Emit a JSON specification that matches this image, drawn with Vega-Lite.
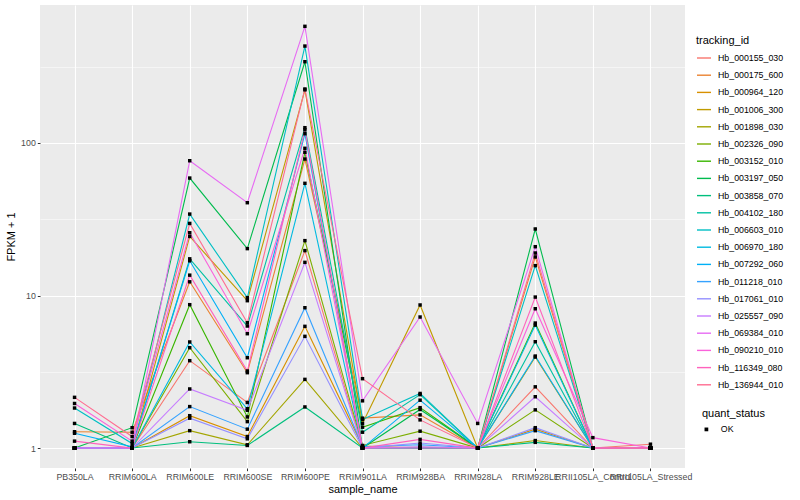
{
  "$schema": "https://vega.github.io/schema/vega-lite/v6.json",
  "autosize": {"type": "none"},
  "padding": {"left": 40, "top": 5, "right": 115, "bottom": 32},
  "width": 645,
  "height": 463,
  "background": "white",
  "config": {
    "view": {"fill": "#EBEBEB", "stroke": null},
    "font": "Liberation Sans",
    "axis": {"labelFont": "Liberation Sans", "titleFont": "Liberation Sans", "titleFontWeight": "normal", "labelColor": "#4D4D4D", "labelFontSize": 8.8, "titleFontSize": 11, "titleColor": "black", "domain": false, "tickColor": "#333333", "tickSize": 2.7, "gridColor": "white"},
    "legend": {"labelFont": "Liberation Sans", "titleFont": "Liberation Sans", "titleFontWeight": "normal", "labelFontSize": 8.8, "titleFontSize": 11, "labelColor": "black", "titleColor": "black"}
  },
  "data": {"values": [
    {"tracking_id":"Hb_000155_030","sample_name":"PB350LA","fpkm":1},
    {"tracking_id":"Hb_000155_030","sample_name":"RRIM600LA","fpkm":1},
    {"tracking_id":"Hb_000155_030","sample_name":"RRIM600LE","fpkm":3.74},
    {"tracking_id":"Hb_000155_030","sample_name":"RRIM600SE","fpkm":1.99},
    {"tracking_id":"Hb_000155_030","sample_name":"RRIM600PE","fpkm":19.7},
    {"tracking_id":"Hb_000155_030","sample_name":"RRIM901LA","fpkm":1},
    {"tracking_id":"Hb_000155_030","sample_name":"RRIM928BA","fpkm":1},
    {"tracking_id":"Hb_000155_030","sample_name":"RRIM928LA","fpkm":1},
    {"tracking_id":"Hb_000155_030","sample_name":"RRIM928LE","fpkm":2.52},
    {"tracking_id":"Hb_000155_030","sample_name":"RRII105LA_Control","fpkm":1},
    {"tracking_id":"Hb_000155_030","sample_name":"RRII105LA_Stressed","fpkm":1.06},
    {"tracking_id":"Hb_000175_600","sample_name":"PB350LA","fpkm":1.28},
    {"tracking_id":"Hb_000175_600","sample_name":"RRIM600LA","fpkm":1.27},
    {"tracking_id":"Hb_000175_600","sample_name":"RRIM600LE","fpkm":12.3},
    {"tracking_id":"Hb_000175_600","sample_name":"RRIM600SE","fpkm":3.12},
    {"tracking_id":"Hb_000175_600","sample_name":"RRIM600PE","fpkm":78.5},
    {"tracking_id":"Hb_000175_600","sample_name":"RRIM901LA","fpkm":1.57},
    {"tracking_id":"Hb_000175_600","sample_name":"RRIM928BA","fpkm":1.65},
    {"tracking_id":"Hb_000175_600","sample_name":"RRIM928LA","fpkm":1},
    {"tracking_id":"Hb_000175_600","sample_name":"RRIM928LE","fpkm":17.9},
    {"tracking_id":"Hb_000175_600","sample_name":"RRII105LA_Control","fpkm":1},
    {"tracking_id":"Hb_000175_600","sample_name":"RRII105LA_Stressed","fpkm":1},
    {"tracking_id":"Hb_000964_120","sample_name":"PB350LA","fpkm":1},
    {"tracking_id":"Hb_000964_120","sample_name":"RRIM600LA","fpkm":1},
    {"tracking_id":"Hb_000964_120","sample_name":"RRIM600LE","fpkm":1.63},
    {"tracking_id":"Hb_000964_120","sample_name":"RRIM600SE","fpkm":1.19},
    {"tracking_id":"Hb_000964_120","sample_name":"RRIM600PE","fpkm":6.28},
    {"tracking_id":"Hb_000964_120","sample_name":"RRIM901LA","fpkm":1.03},
    {"tracking_id":"Hb_000964_120","sample_name":"RRIM928BA","fpkm":1},
    {"tracking_id":"Hb_000964_120","sample_name":"RRIM928LA","fpkm":1},
    {"tracking_id":"Hb_000964_120","sample_name":"RRIM928LE","fpkm":1.33},
    {"tracking_id":"Hb_000964_120","sample_name":"RRII105LA_Control","fpkm":1},
    {"tracking_id":"Hb_000964_120","sample_name":"RRII105LA_Stressed","fpkm":1},
    {"tracking_id":"Hb_001006_300","sample_name":"PB350LA","fpkm":1},
    {"tracking_id":"Hb_001006_300","sample_name":"RRIM600LA","fpkm":1},
    {"tracking_id":"Hb_001006_300","sample_name":"RRIM600LE","fpkm":24.4},
    {"tracking_id":"Hb_001006_300","sample_name":"RRIM600SE","fpkm":9.25},
    {"tracking_id":"Hb_001006_300","sample_name":"RRIM600PE","fpkm":223},
    {"tracking_id":"Hb_001006_300","sample_name":"RRIM901LA","fpkm":1.45},
    {"tracking_id":"Hb_001006_300","sample_name":"RRIM928BA","fpkm":8.67},
    {"tracking_id":"Hb_001006_300","sample_name":"RRIM928LA","fpkm":1},
    {"tracking_id":"Hb_001006_300","sample_name":"RRIM928LE","fpkm":3.95},
    {"tracking_id":"Hb_001006_300","sample_name":"RRII105LA_Control","fpkm":1},
    {"tracking_id":"Hb_001006_300","sample_name":"RRII105LA_Stressed","fpkm":1},
    {"tracking_id":"Hb_001898_030","sample_name":"PB350LA","fpkm":1},
    {"tracking_id":"Hb_001898_030","sample_name":"RRIM600LA","fpkm":1},
    {"tracking_id":"Hb_001898_030","sample_name":"RRIM600LE","fpkm":1.30},
    {"tracking_id":"Hb_001898_030","sample_name":"RRIM600SE","fpkm":1.05},
    {"tracking_id":"Hb_001898_030","sample_name":"RRIM600PE","fpkm":2.82},
    {"tracking_id":"Hb_001898_030","sample_name":"RRIM901LA","fpkm":1},
    {"tracking_id":"Hb_001898_030","sample_name":"RRIM928BA","fpkm":1.01},
    {"tracking_id":"Hb_001898_030","sample_name":"RRIM928LA","fpkm":1},
    {"tracking_id":"Hb_001898_030","sample_name":"RRIM928LE","fpkm":1.12},
    {"tracking_id":"Hb_001898_030","sample_name":"RRII105LA_Control","fpkm":1},
    {"tracking_id":"Hb_001898_030","sample_name":"RRII105LA_Stressed","fpkm":1},
    {"tracking_id":"Hb_002326_090","sample_name":"PB350LA","fpkm":1},
    {"tracking_id":"Hb_002326_090","sample_name":"RRIM600LA","fpkm":1},
    {"tracking_id":"Hb_002326_090","sample_name":"RRIM600LE","fpkm":4.55},
    {"tracking_id":"Hb_002326_090","sample_name":"RRIM600SE","fpkm":1.49},
    {"tracking_id":"Hb_002326_090","sample_name":"RRIM600PE","fpkm":22.9},
    {"tracking_id":"Hb_002326_090","sample_name":"RRIM901LA","fpkm":1.04},
    {"tracking_id":"Hb_002326_090","sample_name":"RRIM928BA","fpkm":1.29},
    {"tracking_id":"Hb_002326_090","sample_name":"RRIM928LA","fpkm":1},
    {"tracking_id":"Hb_002326_090","sample_name":"RRIM928LE","fpkm":1.78},
    {"tracking_id":"Hb_002326_090","sample_name":"RRII105LA_Control","fpkm":1},
    {"tracking_id":"Hb_002326_090","sample_name":"RRII105LA_Stressed","fpkm":1},
    {"tracking_id":"Hb_003152_010","sample_name":"PB350LA","fpkm":1},
    {"tracking_id":"Hb_003152_010","sample_name":"RRIM600LA","fpkm":1},
    {"tracking_id":"Hb_003152_010","sample_name":"RRIM600LE","fpkm":8.71},
    {"tracking_id":"Hb_003152_010","sample_name":"RRIM600SE","fpkm":1.60},
    {"tracking_id":"Hb_003152_010","sample_name":"RRIM600PE","fpkm":86.9},
    {"tracking_id":"Hb_003152_010","sample_name":"RRIM901LA","fpkm":1.37},
    {"tracking_id":"Hb_003152_010","sample_name":"RRIM928BA","fpkm":1.84},
    {"tracking_id":"Hb_003152_010","sample_name":"RRIM928LA","fpkm":1},
    {"tracking_id":"Hb_003152_010","sample_name":"RRIM928LE","fpkm":6.6},
    {"tracking_id":"Hb_003152_010","sample_name":"RRII105LA_Control","fpkm":1},
    {"tracking_id":"Hb_003152_010","sample_name":"RRII105LA_Stressed","fpkm":1},
    {"tracking_id":"Hb_003197_050","sample_name":"PB350LA","fpkm":1},
    {"tracking_id":"Hb_003197_050","sample_name":"RRIM600LA","fpkm":1.36},
    {"tracking_id":"Hb_003197_050","sample_name":"RRIM600LE","fpkm":58.9},
    {"tracking_id":"Hb_003197_050","sample_name":"RRIM600SE","fpkm":20.3},
    {"tracking_id":"Hb_003197_050","sample_name":"RRIM600PE","fpkm":341},
    {"tracking_id":"Hb_003197_050","sample_name":"RRIM901LA","fpkm":1},
    {"tracking_id":"Hb_003197_050","sample_name":"RRIM928BA","fpkm":1.79},
    {"tracking_id":"Hb_003197_050","sample_name":"RRIM928LA","fpkm":1},
    {"tracking_id":"Hb_003197_050","sample_name":"RRIM928LE","fpkm":27.3},
    {"tracking_id":"Hb_003197_050","sample_name":"RRII105LA_Control","fpkm":1},
    {"tracking_id":"Hb_003197_050","sample_name":"RRII105LA_Stressed","fpkm":1},
    {"tracking_id":"Hb_003858_070","sample_name":"PB350LA","fpkm":1.45},
    {"tracking_id":"Hb_003858_070","sample_name":"RRIM600LA","fpkm":1},
    {"tracking_id":"Hb_003858_070","sample_name":"RRIM600LE","fpkm":1.10},
    {"tracking_id":"Hb_003858_070","sample_name":"RRIM600SE","fpkm":1.04},
    {"tracking_id":"Hb_003858_070","sample_name":"RRIM600PE","fpkm":1.86},
    {"tracking_id":"Hb_003858_070","sample_name":"RRIM901LA","fpkm":1},
    {"tracking_id":"Hb_003858_070","sample_name":"RRIM928BA","fpkm":1},
    {"tracking_id":"Hb_003858_070","sample_name":"RRIM928LA","fpkm":1},
    {"tracking_id":"Hb_003858_070","sample_name":"RRIM928LE","fpkm":1.09},
    {"tracking_id":"Hb_003858_070","sample_name":"RRII105LA_Control","fpkm":1},
    {"tracking_id":"Hb_003858_070","sample_name":"RRII105LA_Stressed","fpkm":1},
    {"tracking_id":"Hb_004102_180","sample_name":"PB350LA","fpkm":1},
    {"tracking_id":"Hb_004102_180","sample_name":"RRIM600LA","fpkm":1},
    {"tracking_id":"Hb_004102_180","sample_name":"RRIM600LE","fpkm":17.4},
    {"tracking_id":"Hb_004102_180","sample_name":"RRIM600SE","fpkm":6.31},
    {"tracking_id":"Hb_004102_180","sample_name":"RRIM600PE","fpkm":126},
    {"tracking_id":"Hb_004102_180","sample_name":"RRIM901LA","fpkm":1.27},
    {"tracking_id":"Hb_004102_180","sample_name":"RRIM928BA","fpkm":2.24},
    {"tracking_id":"Hb_004102_180","sample_name":"RRIM928LA","fpkm":1},
    {"tracking_id":"Hb_004102_180","sample_name":"RRIM928LE","fpkm":4.98},
    {"tracking_id":"Hb_004102_180","sample_name":"RRII105LA_Control","fpkm":1},
    {"tracking_id":"Hb_004102_180","sample_name":"RRII105LA_Stressed","fpkm":1},
    {"tracking_id":"Hb_006603_010","sample_name":"PB350LA","fpkm":1.83},
    {"tracking_id":"Hb_006603_010","sample_name":"RRIM600LA","fpkm":1.07},
    {"tracking_id":"Hb_006603_010","sample_name":"RRIM600LE","fpkm":34.2},
    {"tracking_id":"Hb_006603_010","sample_name":"RRIM600SE","fpkm":9.68},
    {"tracking_id":"Hb_006603_010","sample_name":"RRIM600PE","fpkm":432},
    {"tracking_id":"Hb_006603_010","sample_name":"RRIM901LA","fpkm":1.54},
    {"tracking_id":"Hb_006603_010","sample_name":"RRIM928BA","fpkm":2.28},
    {"tracking_id":"Hb_006603_010","sample_name":"RRIM928LA","fpkm":1},
    {"tracking_id":"Hb_006603_010","sample_name":"RRIM928LE","fpkm":15.7},
    {"tracking_id":"Hb_006603_010","sample_name":"RRII105LA_Control","fpkm":1},
    {"tracking_id":"Hb_006603_010","sample_name":"RRII105LA_Stressed","fpkm":1},
    {"tracking_id":"Hb_006970_180","sample_name":"PB350LA","fpkm":1},
    {"tracking_id":"Hb_006970_180","sample_name":"RRIM600LA","fpkm":1},
    {"tracking_id":"Hb_006970_180","sample_name":"RRIM600LE","fpkm":4.96},
    {"tracking_id":"Hb_006970_180","sample_name":"RRIM600SE","fpkm":1.81},
    {"tracking_id":"Hb_006970_180","sample_name":"RRIM600PE","fpkm":54.4},
    {"tracking_id":"Hb_006970_180","sample_name":"RRIM901LA","fpkm":1},
    {"tracking_id":"Hb_006970_180","sample_name":"RRIM928BA","fpkm":1},
    {"tracking_id":"Hb_006970_180","sample_name":"RRIM928LA","fpkm":1},
    {"tracking_id":"Hb_006970_180","sample_name":"RRIM928LE","fpkm":6.4},
    {"tracking_id":"Hb_006970_180","sample_name":"RRII105LA_Control","fpkm":1},
    {"tracking_id":"Hb_006970_180","sample_name":"RRII105LA_Stressed","fpkm":1},
    {"tracking_id":"Hb_007292_060","sample_name":"PB350LA","fpkm":1.25},
    {"tracking_id":"Hb_007292_060","sample_name":"RRIM600LA","fpkm":1.02},
    {"tracking_id":"Hb_007292_060","sample_name":"RRIM600LE","fpkm":16.9},
    {"tracking_id":"Hb_007292_060","sample_name":"RRIM600SE","fpkm":3.91},
    {"tracking_id":"Hb_007292_060","sample_name":"RRIM600PE","fpkm":115},
    {"tracking_id":"Hb_007292_060","sample_name":"RRIM901LA","fpkm":1},
    {"tracking_id":"Hb_007292_060","sample_name":"RRIM928BA","fpkm":2.06},
    {"tracking_id":"Hb_007292_060","sample_name":"RRIM928LA","fpkm":1},
    {"tracking_id":"Hb_007292_060","sample_name":"RRIM928LE","fpkm":4.01},
    {"tracking_id":"Hb_007292_060","sample_name":"RRII105LA_Control","fpkm":1},
    {"tracking_id":"Hb_007292_060","sample_name":"RRII105LA_Stressed","fpkm":1},
    {"tracking_id":"Hb_011218_010","sample_name":"PB350LA","fpkm":1},
    {"tracking_id":"Hb_011218_010","sample_name":"RRIM600LA","fpkm":1},
    {"tracking_id":"Hb_011218_010","sample_name":"RRIM600LE","fpkm":1.87},
    {"tracking_id":"Hb_011218_010","sample_name":"RRIM600SE","fpkm":1.33},
    {"tracking_id":"Hb_011218_010","sample_name":"RRIM600PE","fpkm":8.32},
    {"tracking_id":"Hb_011218_010","sample_name":"RRIM901LA","fpkm":1.02},
    {"tracking_id":"Hb_011218_010","sample_name":"RRIM928BA","fpkm":1.05},
    {"tracking_id":"Hb_011218_010","sample_name":"RRIM928LA","fpkm":1},
    {"tracking_id":"Hb_011218_010","sample_name":"RRIM928LE","fpkm":1.30},
    {"tracking_id":"Hb_011218_010","sample_name":"RRII105LA_Control","fpkm":1},
    {"tracking_id":"Hb_011218_010","sample_name":"RRII105LA_Stressed","fpkm":1},
    {"tracking_id":"Hb_017061_010","sample_name":"PB350LA","fpkm":1},
    {"tracking_id":"Hb_017061_010","sample_name":"RRIM600LA","fpkm":1},
    {"tracking_id":"Hb_017061_010","sample_name":"RRIM600LE","fpkm":1.57},
    {"tracking_id":"Hb_017061_010","sample_name":"RRIM600SE","fpkm":1.15},
    {"tracking_id":"Hb_017061_010","sample_name":"RRIM600PE","fpkm":5.40},
    {"tracking_id":"Hb_017061_010","sample_name":"RRIM901LA","fpkm":1},
    {"tracking_id":"Hb_017061_010","sample_name":"RRIM928BA","fpkm":1.08},
    {"tracking_id":"Hb_017061_010","sample_name":"RRIM928LA","fpkm":1},
    {"tracking_id":"Hb_017061_010","sample_name":"RRIM928LE","fpkm":1.36},
    {"tracking_id":"Hb_017061_010","sample_name":"RRII105LA_Control","fpkm":1},
    {"tracking_id":"Hb_017061_010","sample_name":"RRII105LA_Stressed","fpkm":1},
    {"tracking_id":"Hb_025557_090","sample_name":"PB350LA","fpkm":1},
    {"tracking_id":"Hb_025557_090","sample_name":"RRIM600LA","fpkm":1},
    {"tracking_id":"Hb_025557_090","sample_name":"RRIM600LE","fpkm":2.44},
    {"tracking_id":"Hb_025557_090","sample_name":"RRIM600SE","fpkm":1.77},
    {"tracking_id":"Hb_025557_090","sample_name":"RRIM600PE","fpkm":16.5},
    {"tracking_id":"Hb_025557_090","sample_name":"RRIM901LA","fpkm":1},
    {"tracking_id":"Hb_025557_090","sample_name":"RRIM928BA","fpkm":1.02},
    {"tracking_id":"Hb_025557_090","sample_name":"RRIM928LA","fpkm":1},
    {"tracking_id":"Hb_025557_090","sample_name":"RRIM928LE","fpkm":2.17},
    {"tracking_id":"Hb_025557_090","sample_name":"RRII105LA_Control","fpkm":1},
    {"tracking_id":"Hb_025557_090","sample_name":"RRII105LA_Stressed","fpkm":1},
    {"tracking_id":"Hb_069384_010","sample_name":"PB350LA","fpkm":1},
    {"tracking_id":"Hb_069384_010","sample_name":"RRIM600LA","fpkm":1},
    {"tracking_id":"Hb_069384_010","sample_name":"RRIM600LE","fpkm":76.5},
    {"tracking_id":"Hb_069384_010","sample_name":"RRIM600SE","fpkm":40.6},
    {"tracking_id":"Hb_069384_010","sample_name":"RRIM600PE","fpkm":582},
    {"tracking_id":"Hb_069384_010","sample_name":"RRIM901LA","fpkm":2.04},
    {"tracking_id":"Hb_069384_010","sample_name":"RRIM928BA","fpkm":7.23},
    {"tracking_id":"Hb_069384_010","sample_name":"RRIM928LA","fpkm":1.45},
    {"tracking_id":"Hb_069384_010","sample_name":"RRIM928LE","fpkm":20.9},
    {"tracking_id":"Hb_069384_010","sample_name":"RRII105LA_Control","fpkm":1},
    {"tracking_id":"Hb_069384_010","sample_name":"RRII105LA_Stressed","fpkm":1},
    {"tracking_id":"Hb_090210_010","sample_name":"PB350LA","fpkm":1.96},
    {"tracking_id":"Hb_090210_010","sample_name":"RRIM600LA","fpkm":1.11},
    {"tracking_id":"Hb_090210_010","sample_name":"RRIM600LE","fpkm":25.8},
    {"tracking_id":"Hb_090210_010","sample_name":"RRIM600SE","fpkm":5.62},
    {"tracking_id":"Hb_090210_010","sample_name":"RRIM600PE","fpkm":92.3},
    {"tracking_id":"Hb_090210_010","sample_name":"RRIM901LA","fpkm":1},
    {"tracking_id":"Hb_090210_010","sample_name":"RRIM928BA","fpkm":1},
    {"tracking_id":"Hb_090210_010","sample_name":"RRIM928LA","fpkm":1},
    {"tracking_id":"Hb_090210_010","sample_name":"RRIM928LE","fpkm":8.19},
    {"tracking_id":"Hb_090210_010","sample_name":"RRII105LA_Control","fpkm":1.17},
    {"tracking_id":"Hb_090210_010","sample_name":"RRII105LA_Stressed","fpkm":1},
    {"tracking_id":"Hb_116349_080","sample_name":"PB350LA","fpkm":1.11},
    {"tracking_id":"Hb_116349_080","sample_name":"RRIM600LA","fpkm":1},
    {"tracking_id":"Hb_116349_080","sample_name":"RRIM600LE","fpkm":13.6},
    {"tracking_id":"Hb_116349_080","sample_name":"RRIM600SE","fpkm":3.20},
    {"tracking_id":"Hb_116349_080","sample_name":"RRIM600PE","fpkm":122},
    {"tracking_id":"Hb_116349_080","sample_name":"RRIM901LA","fpkm":1},
    {"tracking_id":"Hb_116349_080","sample_name":"RRIM928BA","fpkm":1.14},
    {"tracking_id":"Hb_116349_080","sample_name":"RRIM928LA","fpkm":1},
    {"tracking_id":"Hb_116349_080","sample_name":"RRIM928LE","fpkm":9.77},
    {"tracking_id":"Hb_116349_080","sample_name":"RRII105LA_Control","fpkm":1},
    {"tracking_id":"Hb_116349_080","sample_name":"RRII105LA_Stressed","fpkm":1},
    {"tracking_id":"Hb_136944_010","sample_name":"PB350LA","fpkm":2.15},
    {"tracking_id":"Hb_136944_010","sample_name":"RRIM600LA","fpkm":1.19},
    {"tracking_id":"Hb_136944_010","sample_name":"RRIM600LE","fpkm":29.7},
    {"tracking_id":"Hb_136944_010","sample_name":"RRIM600SE","fpkm":6.63},
    {"tracking_id":"Hb_136944_010","sample_name":"RRIM600PE","fpkm":226},
    {"tracking_id":"Hb_136944_010","sample_name":"RRIM901LA","fpkm":2.85},
    {"tracking_id":"Hb_136944_010","sample_name":"RRIM928BA","fpkm":1.53},
    {"tracking_id":"Hb_136944_010","sample_name":"RRIM928LA","fpkm":1},
    {"tracking_id":"Hb_136944_010","sample_name":"RRIM928LE","fpkm":19.0},
    {"tracking_id":"Hb_136944_010","sample_name":"RRII105LA_Control","fpkm":1},
    {"tracking_id":"Hb_136944_010","sample_name":"RRII105LA_Stressed","fpkm":1}
  ]},
  "encoding": {
    "x": {
      "field": "sample_name", "type": "nominal", "title": "sample_name",
      "sort": ["PB350LA","RRIM600LA","RRIM600LE","RRIM600SE","RRIM600PE","RRIM901LA","RRIM928BA","RRIM928LA","RRIM928LE","RRII105LA_Control","RRII105LA_Stressed"],
      "scale": {"type": "point", "padding": 0.6},
      "axis": {"labelAngle": 0, "labelOverlap": false, "labelBound": false, "grid": true, "gridWidth": 1.1, "labelPadding": 2, "titlePadding": 2}
    },
    "y": {
      "field": "fpkm", "type": "quantitative", "title": "FPKM + 1",
      "scale": {"type": "log", "domain": [0.74, 803], "nice": false, "zero": false},
      "axis": {
        "values": [1, 3.1623, 10, 31.623, 100, 316.23],
        "labelExpr": "datum.value < 2 ? '1' : (datum.value > 9 && datum.value < 11) ? '10' : (datum.value > 99 && datum.value < 101) ? '100' : ''",
        "gridWidth": {"condition": {"test": "datum.value < 2 || (datum.value > 9 && datum.value < 11) || (datum.value > 99 && datum.value < 101)", "value": 1.1}, "value": 0.5},
        "tickOpacity": {"condition": {"test": "datum.value < 2 || (datum.value > 9 && datum.value < 11) || (datum.value > 99 && datum.value < 101)", "value": 1}, "value": 0},
        "labelPadding": 2, "titlePadding": 4
      }
    }
  },
  "layer": [
    {
      "mark": {"type": "line", "strokeWidth": 1.1},
      "encoding": {
        "color": {
          "field": "tracking_id", "type": "nominal", "title": "tracking_id",
          "scale": {
            "domain": ["Hb_000155_030","Hb_000175_600","Hb_000964_120","Hb_001006_300","Hb_001898_030","Hb_002326_090","Hb_003152_010","Hb_003197_050","Hb_003858_070","Hb_004102_180","Hb_006603_010","Hb_006970_180","Hb_007292_060","Hb_011218_010","Hb_017061_010","Hb_025557_090","Hb_069384_010","Hb_090210_010","Hb_116349_080","Hb_136944_010"],
            "range": ["#F8766D","#EA8331","#D89000","#C09B00","#A3A500","#7CAE00","#39B600","#00BB4E","#00BF7D","#00C1A3","#00BFC4","#00BAE0","#00B0F6","#35A2FF","#9590FF","#C77CFF","#E76BF3","#FA62DB","#FF62BC","#FF6C91"]
          },
          "legend": {"orient": "none", "legendX": 656, "legendY": 30, "symbolType": "stroke", "symbolSize": 196, "symbolStrokeWidth": 1.4, "rowPadding": 4.2, "titlePadding": 4, "labelOffset": 6}
        }
      }
    },
    {
      "mark": {"type": "point", "filled": true, "color": "black", "size": 12, "opacity": 1},
      "encoding": {
        "shape": {
          "datum": "OK",
          "scale": {"domain": ["OK"], "range": ["square"]},
          "legend": {"title": "quant_status", "orient": "none", "legendX": 662, "legendY": 403, "symbolSize": 14, "symbolFillColor": "black", "symbolStrokeColor": "black", "symbolStrokeWidth": 0, "titlePadding": 6, "labelOffset": 10}
        }
      }
    }
  ]
}
